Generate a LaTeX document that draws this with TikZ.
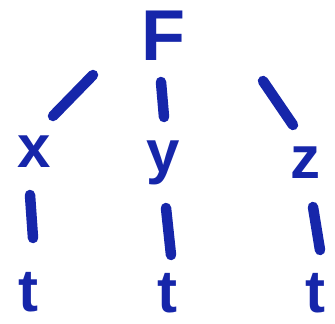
\documentclass[tikz,border=0pt]{standalone}
\usepackage{fontspec}
\setmainfont{Liberation Sans}
\usetikzlibrary{calc}
\definecolor{ink}{RGB}{22,38,170}
\begin{document}
\begin{tikzpicture}[x=1pt,y=-1pt,
  lbl/.style={text=ink,inner sep=0pt,font=\fontsize{60}{62}\selectfont\bfseries},
  root/.style={text=ink,inner sep=0pt,font=\fontsize{72}{74}\selectfont\bfseries},
  branch/.style={draw=ink,line width=10.5pt,line cap=round}]
\useasboundingbox (0,0) rectangle (335,324);
\node[root] (F) at (163,36) {F};
\node[lbl] (x) at (34,152) {x};
\node[lbl] (y) at (163,163) {y};
\node[lbl] (z) at (305,163) {z};
\node[lbl] (t1) at (28,292) {t};
\node[lbl] (t2) at (167,293) {t};
\node[lbl] (t3) at (315,293) {t};
\draw[branch] ([shift={(-70,39)}]F.center) -- ([shift={(19,-36)}]x.center);
\draw[branch] ([shift={(-2,46)}]F.center) -- ([shift={(1,-46)}]y.center);
\draw[branch] ([shift={(100,45)}]F.center) -- ([shift={(-12,-38)}]z.center);
\draw[branch] ([shift={(-4,43)}]x.center) -- ([shift={(5,-54)}]t1.center);
\draw[branch] ([shift={(3,45)}]y.center) -- ([shift={(4,-38)}]t2.center);
\draw[branch] ([shift={(8,44)}]z.center) -- ([shift={(5,-43)}]t3.center);
\end{tikzpicture}
\end{document}
